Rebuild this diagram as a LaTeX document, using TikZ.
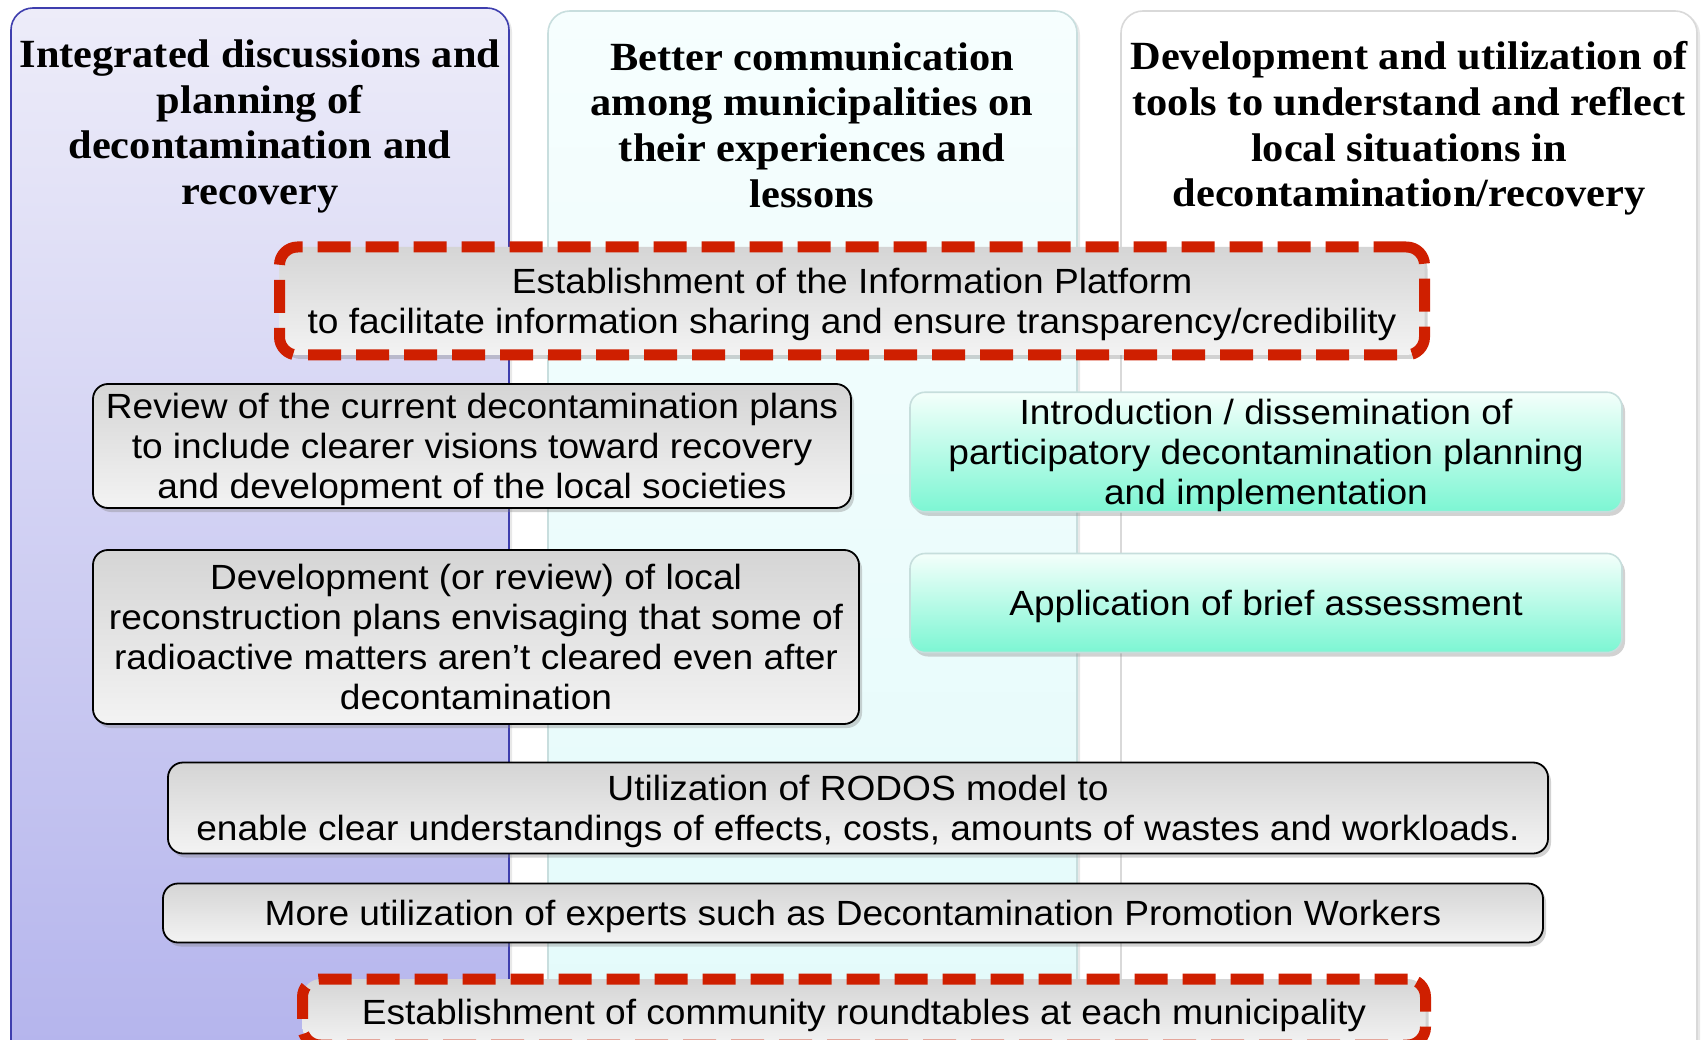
\documentclass[tikz,border=0pt]{standalone}
\usepackage{fontspec}
\setmainfont[FakeStretch=1.06]{Liberation Sans}
\newfontfamily\headfont[FakeStretch=1.06]{Liberation Serif}
\usetikzlibrary{shadows}

\definecolor{lavtop}{HTML}{EDECF9}
\definecolor{lavbot}{HTML}{B2B2EC}
\definecolor{lavline}{HTML}{3E3EAE}
\definecolor{cyantop}{HTML}{F6FEFE}
\definecolor{cyanbot}{HTML}{E2FAFA}
\definecolor{cyanline}{HTML}{C8DEDE}
\definecolor{greytop}{HTML}{D5D5D5}
\definecolor{greybot}{HTML}{F3F3F3}
\definecolor{mintop}{HTML}{F4FFFB}
\definecolor{minbot}{HTML}{7CF6D3}
\definecolor{minline}{HTML}{C6DEDC}
\definecolor{dashred}{HTML}{CF1F00}

% line box as in the slide: ascent on top, descent below
\newcommand\slidetext[1]{\rule{0pt}{32pt}#1\rule[-7.5pt]{0pt}{0pt}}

\begin{document}
\begin{tikzpicture}[x=1pt,y=-1pt,
  column/.style={line width=1.6pt,rounded corners=22pt,
    drop shadow={opacity=0.18,shadow xshift=3pt,shadow yshift=-2pt}},
  head/.style={align=center,font=\headfont\bfseries\fontsize{40}{45.6}\selectfont},
  greybox/.style={draw=black,line width=1.8pt,rounded corners=15pt,
    top color=greytop,bottom color=greybot,align=center,inner sep=0pt,
    font=\fontsize{35}{40}\selectfont,
    drop shadow={opacity=0.35,shadow xshift=3pt,shadow yshift=-4pt}},
  mintbox/.style={greybox,draw=minline,line width=1.6pt,
    top color=mintop,bottom color=minbot},
  redbox/.style={greybox,draw=dashred,line width=11pt,
    dash pattern=on 33pt off 15pt,rounded corners=18pt}]
\useasboundingbox (0,0) rectangle (1702,1040);
\clip (0,0) rectangle (1702,1040);
\fill[white] (0,0) rectangle (1702,1040);

% three columns
\draw[column,draw=lavline,top color=lavtop,bottom color=lavbot] (11,8) rectangle (509,1100);
\draw[column,draw=cyanline,top color=cyantop,bottom color=cyanbot] (548,11) rectangle (1077,1100);
\draw[column,draw=black!15,fill=white] (1121,11) rectangle (1697,1100);

\node[head] (hplan) at (260,126.5) {Integrated discussions and\\planning of\\decontamination and\\recovery};
\node[head] (hcomm) at (812,125) {Better communication\\among municipalities on\\their experiences and\\lessons};
\node[head] (htool) at (1409,128.5) {Development and utilization of\\tools to understand and reflect\\local situations in\\decontamination/recovery};

% measures
\node[redbox,minimum width=1145pt,minimum height=108pt] (platform) at (852,301)
  {\slidetext{Establishment of the Information Platform\\to facilitate information sharing and ensure transparency/credibility}};
\node[greybox,minimum width=758pt,minimum height=124pt] (review) at (472,446)
  {\slidetext{Review of the current decontamination plans\\to include clearer visions toward recovery\\and development of the local societies}};
\node[greybox,minimum width=766pt,minimum height=174pt] (reconst) at (476,637)
  {\slidetext{Development (or review) of local\\reconstruction plans envisaging that some of\\radioactive matters aren’t cleared even after\\decontamination}};
\node[mintbox,minimum width=712pt,minimum height=119pt] (particip) at (1266,452)
  {\slidetext{Introduction / dissemination of\\participatory decontamination planning\\and implementation}};
\node[mintbox,minimum width=712pt,minimum height=99pt] (assess) at (1266,603)
  {\slidetext{Application of brief assessment}};
\node[greybox,minimum width=1380pt,minimum height=91pt] (rodos) at (858,808)
  {\slidetext{Utilization of RODOS model to\\enable clear understandings of effects, costs, amounts of wastes and workloads.}};
\node[greybox,minimum width=1380pt,minimum height=59pt] (experts) at (853,913)
  {\slidetext{More utilization of experts such as Decontamination Promotion Workers}};
\node[redbox,minimum width=1123pt,minimum height=66pt] (roundtab) at (864,1012)
  {\slidetext{Establishment of community roundtables at each municipality}};
\end{tikzpicture}
\end{document}
